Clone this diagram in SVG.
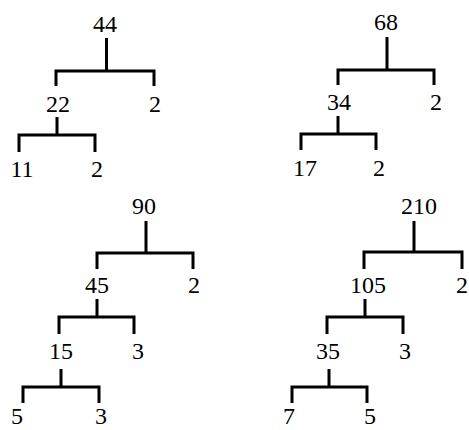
<svg xmlns="http://www.w3.org/2000/svg" width="469" height="430" viewBox="0 0 469 430">
<style>
text{font-family:"Liberation Serif","Times New Roman",serif;font-size:24px;fill:#000;text-anchor:middle}
.c{fill:none;stroke:#000;stroke-width:3;stroke-linejoin:miter;stroke-linecap:butt}
</style>
<rect width="469" height="430" fill="#fff"/>
<g id="connectors">
<path class="c" d="M106.5,38V71M56,86V71H154V86"/>
<path class="c" d="M57,117V135M19,152V135H95V152"/>
<path class="c" d="M387,37V70M338,85V70H434V85"/>
<path class="c" d="M338,116V134M301,150V134H376V150"/>
<path class="c" d="M146,221V253M97,269V253H193V269"/>
<path class="c" d="M97,299V317M59,334V317H134V334"/>
<path class="c" d="M61,369V387M23,403V387H99V403"/>
<path class="c" d="M414,221V252M364,269V252H462V269"/>
<path class="c" d="M365,299V317M327,334V317H403V334"/>
<path class="c" d="M329,369V387M292,403V387H367V403"/>
</g>
<g id="n44"><text x="105" y="32">44</text></g>
<g id="n22"><text x="58" y="112">22</text></g>
<g id="n2a"><text x="155" y="112">2</text></g>
<g id="n11"><text x="22" y="177">11</text></g>
<g id="n2b"><text x="97" y="177">2</text></g>
<g id="n68"><text x="386" y="30">68</text></g>
<g id="n34"><text x="339" y="110">34</text></g>
<g id="n2c"><text x="436" y="110">2</text></g>
<g id="n17"><text x="305" y="176">17</text></g>
<g id="n2d"><text x="379" y="176">2</text></g>
<g id="n90"><text x="144" y="214">90</text></g>
<g id="n45"><text x="97" y="293">45</text></g>
<g id="n2e"><text x="194" y="293">2</text></g>
<g id="n15"><text x="61" y="359">15</text></g>
<g id="n3a"><text x="138" y="359">3</text></g>
<g id="n5a"><text x="17" y="424">5</text></g>
<g id="n3b"><text x="101" y="424">3</text></g>
<g id="n210"><text x="419" y="214">210</text></g>
<g id="n105"><text x="368" y="293">105</text></g>
<g id="n2f"><text x="462" y="293">2</text></g>
<g id="n35"><text x="328" y="359">35</text></g>
<g id="n3c"><text x="405" y="359">3</text></g>
<g id="n7"><text x="289" y="424">7</text></g>
<g id="n5b"><text x="370" y="424">5</text></g>
</svg>
